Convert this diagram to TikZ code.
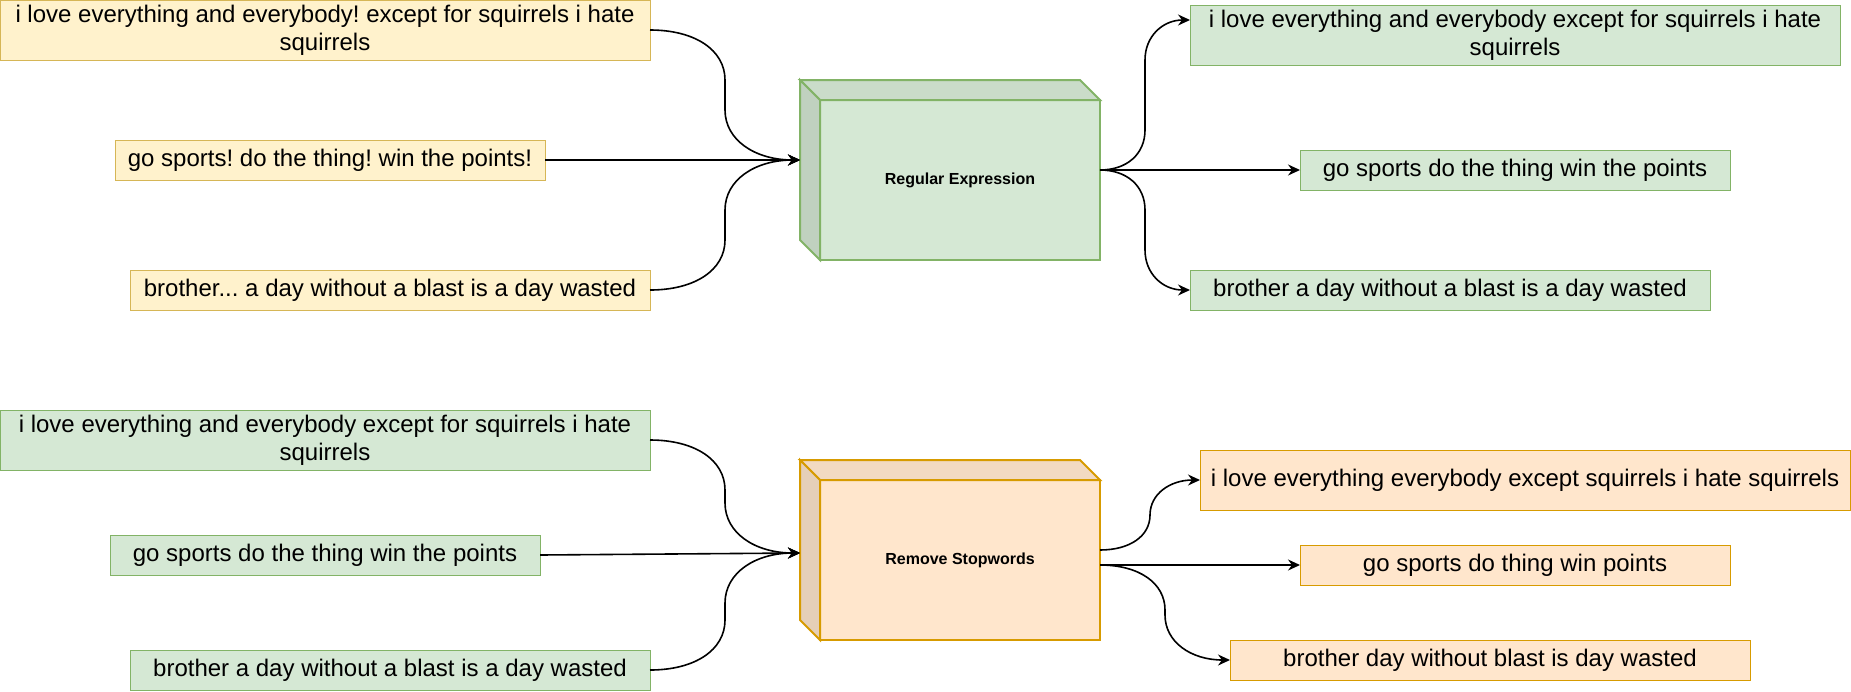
\documentclass[tikz,border=0pt]{standalone}
\usepackage{fontspec}
\setmainfont{Liberation Sans}
\usetikzlibrary{arrows.meta,calc}
\frenchspacing

\definecolor{yellowfill}{HTML}{FFF2CC}
\definecolor{yellowline}{HTML}{D6B656}
\definecolor{greenfill}{HTML}{D5E8D4}
\definecolor{greenline}{HTML}{82B366}
\definecolor{orangefill}{HTML}{FFE6CC}
\definecolor{orangeline}{HTML}{D79B00}

\tikzset{
  txt/.style={draw, line width=1pt, minimum height=40pt, inner sep=0pt, outer sep=0pt,
    align=center, font=\fontsize{24}{28}\selectfont},
  raw/.style={txt, fill=yellowfill, draw=yellowline},
  clean/.style={txt, fill=greenfill, draw=greenline},
  nostop/.style={txt, fill=orangefill, draw=orangeline},
  front/.style={draw, line width=2pt, minimum width=280pt, minimum height=160pt,
    inner sep=0pt, outer sep=0pt, font=\bfseries\fontsize{16}{19}\selectfont},
  link/.style={-{Stealth[length=12pt,width=11pt,inset=4pt]}, line width=1.6pt},
  % horizontal out, vertical in the middle, horizontal in
  elbow/.style={to path={let \p1=(\tikztostart), \p2=(\tikztotarget),
      \n1={(\x1+\x2)/2}, \n2={#1*sign(\y2-\y1)} in
      .. controls ($(\tikztostart)!.6!(\n1,\y1)$) and ($([yshift=\n2]\n1,\y1)!.6!(\n1,\y1)$)
      .. ([yshift=\n2]\n1,\y1)
      -- ([yshift=-\n2]\n1,\y2)
      .. controls ($([yshift=-\n2]\n1,\y2)!.6!(\n1,\y2)$) and ($(\tikztotarget)!.6!(\n1,\y2)$)
      .. (\tikztotarget)}},
  elbow/.default=50pt,
}

\begin{document}
\begin{tikzpicture}[x=1pt, y=1pt]
  \useasboundingbox (0,0) rectangle (1851,-691);

  % Regular expression step
  \node[front, fill=greenfill, draw=greenline] (regex) at (960,-180) {Regular Expression};
  \filldraw[line width=2pt, draw=greenline, fill=greenfill!95!black]
    (regex.north west) -- ++(-20,20) -- ++(280,0) -- (regex.north east) -- cycle;
  \filldraw[line width=2pt, draw=greenline, fill=greenfill!90!black]
    (regex.north west) -- ++(-20,20) -- ++(0,-160) -- (regex.south west) -- cycle;
  \coordinate (regex in) at ([xshift=-20pt,yshift=20pt]regex.west);
  \coordinate (regex out) at ([yshift=10pt]regex.east);

  % Raw sentences
  \node[raw, minimum width=650pt, minimum height=60pt] (y1) at (325,-30)
    {i love everything and everybody! except for squirrels i hate\\squirrels};
  \node[raw, minimum width=430pt] (y2) at (330,-160) {go sports! do the thing! win the points!};
  \node[raw, minimum width=520pt] (y3) at (390,-290) {brother... a day without a blast is a day wasted};

  % Cleaned sentences
  \node[clean, minimum width=650pt, minimum height=60pt] (g1) at (1515,-35)
    {i love everything and everybody except for squirrels i hate\\squirrels};
  \node[clean, minimum width=430pt] (g2) at (1515,-170) {go sports do the thing win the points};
  \node[clean, minimum width=520pt] (g3) at (1450,-290) {brother a day without a blast is a day wasted};

  \draw[link] (y1.east) to[elbow] (regex in);
  \draw[link] (y2.east) -- (regex in);
  \draw[link] (y3.east) to[elbow] (regex in);
  \draw[link] (regex out) to[elbow=40pt] ([yshift=15pt]g1.west);
  \draw[link] (regex out) -- (g2.west);
  \draw[link] (regex out) to[elbow=40pt] (g3.west);

  % Stopword step
  \node[front, fill=orangefill, draw=orangeline] (stop) at (960,-560) {Remove Stopwords};
  \filldraw[line width=2pt, draw=orangeline, fill=orangefill!95!black]
    (stop.north west) -- ++(-20,20) -- ++(280,0) -- (stop.north east) -- cycle;
  \filldraw[line width=2pt, draw=orangeline, fill=orangefill!90!black]
    (stop.north west) -- ++(-20,20) -- ++(0,-160) -- (stop.south west) -- cycle;
  \coordinate (stop in) at ([xshift=-20pt,yshift=7pt]stop.west);
  \coordinate (stop out) at ([yshift=10pt]stop.east);
  \coordinate (stop out2) at ([yshift=-5pt]stop.east);

  % Input sentences
  \node[clean, minimum width=650pt, minimum height=60pt] (gl1) at (325,-440)
    {i love everything and everybody except for squirrels i hate\\squirrels};
  \node[clean, minimum width=430pt] (gl2) at (325,-555) {go sports do the thing win the points};
  \node[clean, minimum width=520pt] (gl3) at (390,-670) {brother a day without a blast is a day wasted};

  % Output sentences
  \node[nostop, minimum width=650pt, minimum height=60pt] (o1) at (1525,-480)
    {i love everything everybody except squirrels i hate squirrels};
  \node[nostop, minimum width=430pt] (o2) at (1515,-565) {go sports do thing win points};
  \node[nostop, minimum width=520pt] (o3) at (1490,-660) {brother day without blast is day wasted};

  \draw[link] (gl1.east) to[elbow] (stop in);
  \draw[link] (gl2.east) -- (stop in);
  \draw[link] (gl3.east) to[elbow] (stop in);
  \draw[link] (stop out) to[elbow=35pt] (o1.west);
  \draw[link] (stop out2) -- (o2.west);
  \draw[link] (stop out2) to[elbow=45pt] (o3.west);
\end{tikzpicture}
\end{document}
